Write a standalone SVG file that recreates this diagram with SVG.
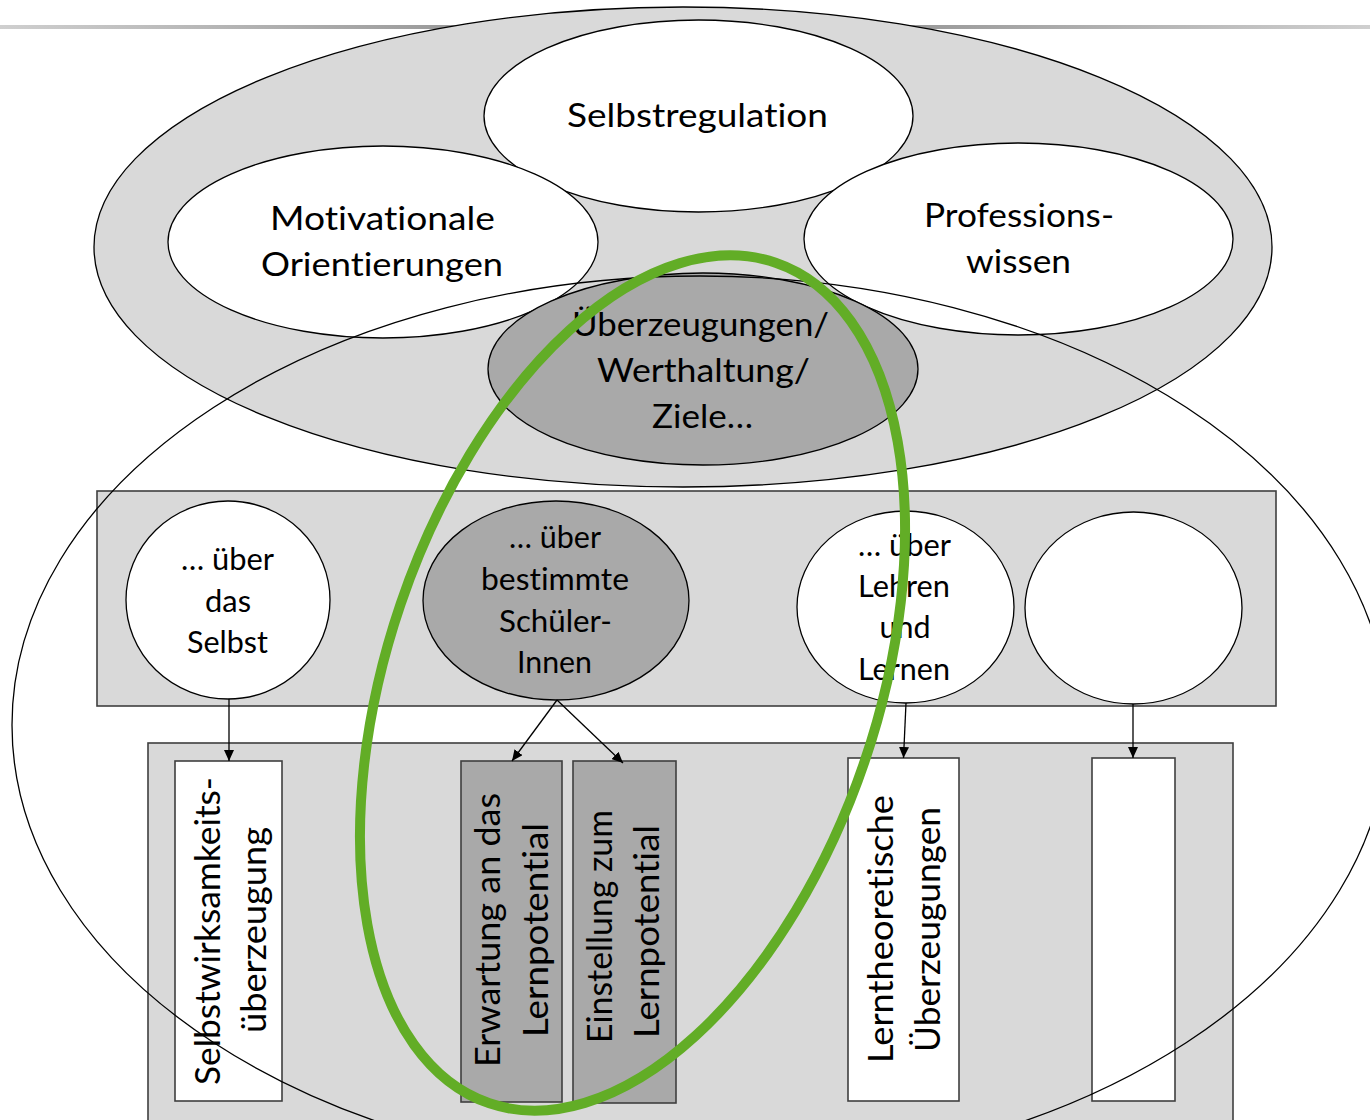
<svg xmlns="http://www.w3.org/2000/svg" width="1370" height="1120" viewBox="0 0 1370 1120">
<defs>
<linearGradient id="bar" x1="0" y1="0" x2="1" y2="0">
<stop offset="0" stop-color="#cfcfcf"/>
<stop offset="0.5" stop-color="#7f7f7f"/>
<stop offset="1" stop-color="#cfcfcf"/>
</linearGradient>
<marker id="arr" viewBox="0 0 11 10" refX="11" refY="5" markerWidth="11" markerHeight="10" markerUnits="userSpaceOnUse" orient="auto">
<path d="M0,0 L11,5 L0,10 z" fill="#000"/>
</marker>
<style>
.t{font-family:Lato,"Open Sans","DejaVu Sans",sans-serif;fill:#000;text-anchor:middle;font-variant-ligatures:none;font-feature-settings:"liga" 0,"clig" 0}
.big{font-size:33px}
.mid{font-size:30px}
.ver{font-size:34px}
.el{stroke:#000;stroke-width:1.3}
.w{fill:#fff}
.g{fill:#a9a9a9}
.lg{fill:#d9d9d9}
.rect{stroke:#3f3f3f;stroke-width:1.6}
.con{stroke:#000;stroke-width:1.3;fill:none}
</style>
</defs>
<rect x="0" y="25" width="1370" height="4" fill="url(#bar)"/>

<g id="outer-top">
<ellipse class="el lg" cx="683" cy="247" rx="589" ry="240"/>
</g>

<g id="selbstregulation">
<ellipse class="el w" cx="698.5" cy="116" rx="214.5" ry="96"/>
<text class="t big" x="697.5" y="127" textLength="261" lengthAdjust="spacingAndGlyphs">Selbstregulation</text>
</g>

<g id="motivationale">
<ellipse class="el w" cx="383" cy="242" rx="215" ry="96"/>
<text class="t big" x="382.5" y="230" textLength="225" lengthAdjust="spacingAndGlyphs">Motivationale</text>
<text class="t big" x="382" y="276" textLength="242" lengthAdjust="spacingAndGlyphs">Orientierungen</text>
</g>

<g id="professionswissen">
<ellipse class="el w" cx="1018.5" cy="239" rx="214.5" ry="96"/>
<text class="t big" x="1019" y="227" textLength="190" lengthAdjust="spacingAndGlyphs">Professions-</text>
<text class="t big" x="1018.5" y="273" textLength="105" lengthAdjust="spacingAndGlyphs">wissen</text>
</g>

<g id="ueberzeugungen">
<ellipse class="el g" cx="703" cy="369" rx="215" ry="96"/>
<text class="t big" x="700.5" y="336" textLength="257" lengthAdjust="spacingAndGlyphs">Überzeugungen/</text>
<text class="t big" x="703.5" y="382" textLength="213" lengthAdjust="spacingAndGlyphs">Werthaltung/</text>
<text class="t big" x="702.5" y="428" textLength="101" lengthAdjust="spacingAndGlyphs">Ziele…</text>
</g>

<g id="upper-panel">
<rect class="rect lg" x="97" y="491" width="1179" height="215"/>
</g>

<g id="ueber-selbst">
<ellipse class="el w" cx="228" cy="600" rx="102" ry="99"/>
<text class="t mid" x="227.5" y="570" textLength="93" lengthAdjust="spacingAndGlyphs">… über</text>
<text class="t mid" x="228" y="612" textLength="46" lengthAdjust="spacingAndGlyphs">das</text>
<text class="t mid" x="227.5" y="653" textLength="81" lengthAdjust="spacingAndGlyphs">Selbst</text>
</g>

<g id="ueber-schueler">
<ellipse class="el g" cx="556" cy="600.5" rx="133" ry="99.5"/>
<text class="t mid" x="555" y="548" textLength="92" lengthAdjust="spacingAndGlyphs">… über</text>
<text class="t mid" x="555" y="590" textLength="148" lengthAdjust="spacingAndGlyphs">bestimmte</text>
<text class="t mid" x="555.5" y="632" textLength="113" lengthAdjust="spacingAndGlyphs">Schüler-</text>
<text class="t mid" x="554.5" y="673" textLength="75" lengthAdjust="spacingAndGlyphs">Innen</text>
</g>

<g id="ueber-lehren">
<ellipse class="el w" cx="905.5" cy="607" rx="108.5" ry="96"/>
<text class="t mid" x="904.5" y="556" textLength="93" lengthAdjust="spacingAndGlyphs">… über</text>
<text class="t mid" x="904" y="597" textLength="92" lengthAdjust="spacingAndGlyphs">Lehren</text>
<text class="t mid" x="905" y="638" textLength="51" lengthAdjust="spacingAndGlyphs">und</text>
<text class="t mid" x="904" y="680" textLength="92" lengthAdjust="spacingAndGlyphs">Lernen</text>
</g>

<g id="empty-circle">
<ellipse class="el w" cx="1133.5" cy="608" rx="108.5" ry="96"/>
</g>

<g id="lower-panel">
<rect class="rect lg" x="148" y="743" width="1085" height="390"/>
</g>

<g id="selbstwirksamkeit">
<rect class="rect w" x="175" y="761" width="107" height="340"/>
<text class="t ver" transform="translate(220,931) rotate(-90)" textLength="308" lengthAdjust="spacingAndGlyphs">Selbstwirksamkeits-</text>
<text class="t ver" transform="translate(266,930) rotate(-90)" textLength="206" lengthAdjust="spacingAndGlyphs">überzeugung</text>
</g>

<g id="erwartung">
<rect class="rect g" x="461" y="761" width="101" height="341"/>
<text class="t ver" transform="translate(500,930) rotate(-90)" textLength="274" lengthAdjust="spacingAndGlyphs">Erwartung an das</text>
<text class="t ver" transform="translate(548,930) rotate(-90)" textLength="214" lengthAdjust="spacingAndGlyphs">Lernpotential</text>
</g>

<g id="einstellung">
<rect class="rect g" x="573" y="761" width="103" height="342"/>
<text class="t ver" transform="translate(612,926.5) rotate(-90)" textLength="233" lengthAdjust="spacingAndGlyphs">Einstellung zum</text>
<text class="t ver" transform="translate(659,931.5) rotate(-90)" textLength="213" lengthAdjust="spacingAndGlyphs">Lernpotential</text>
</g>

<g id="lerntheoretisch">
<rect class="rect w" x="848" y="758" width="111" height="343"/>
<text class="t ver" transform="translate(893,929) rotate(-90)" textLength="268" lengthAdjust="spacingAndGlyphs">Lerntheoretische</text>
<text class="t ver" transform="translate(940,929.5) rotate(-90)" textLength="245" lengthAdjust="spacingAndGlyphs">Überzeugungen</text>
</g>

<g id="empty-box">
<rect class="rect w" x="1092" y="758" width="83" height="343"/>
</g>

<g id="connectors">
<line class="con" x1="229" y1="699" x2="229" y2="761" marker-end="url(#arr)"/>
<line class="con" x1="557" y1="700" x2="512" y2="761" marker-end="url(#arr)"/>
<line class="con" x1="557" y1="700" x2="623" y2="763" marker-end="url(#arr)"/>
<line class="con" x1="906" y1="703" x2="903.5" y2="758" marker-end="url(#arr)"/>
<line class="con" x1="1133" y1="704" x2="1133" y2="758" marker-end="url(#arr)"/>
</g>

<g id="outline-ellipse">
<ellipse cx="700" cy="725" rx="688" ry="449" fill="none" stroke="#000" stroke-width="1.3"/>
</g>

<g id="green-highlight">
<ellipse cx="632.5" cy="683" rx="245" ry="444" fill="none" stroke="#62ad26" stroke-width="10" transform="rotate(18.8 632.5 683)"/>
</g>
</svg>
